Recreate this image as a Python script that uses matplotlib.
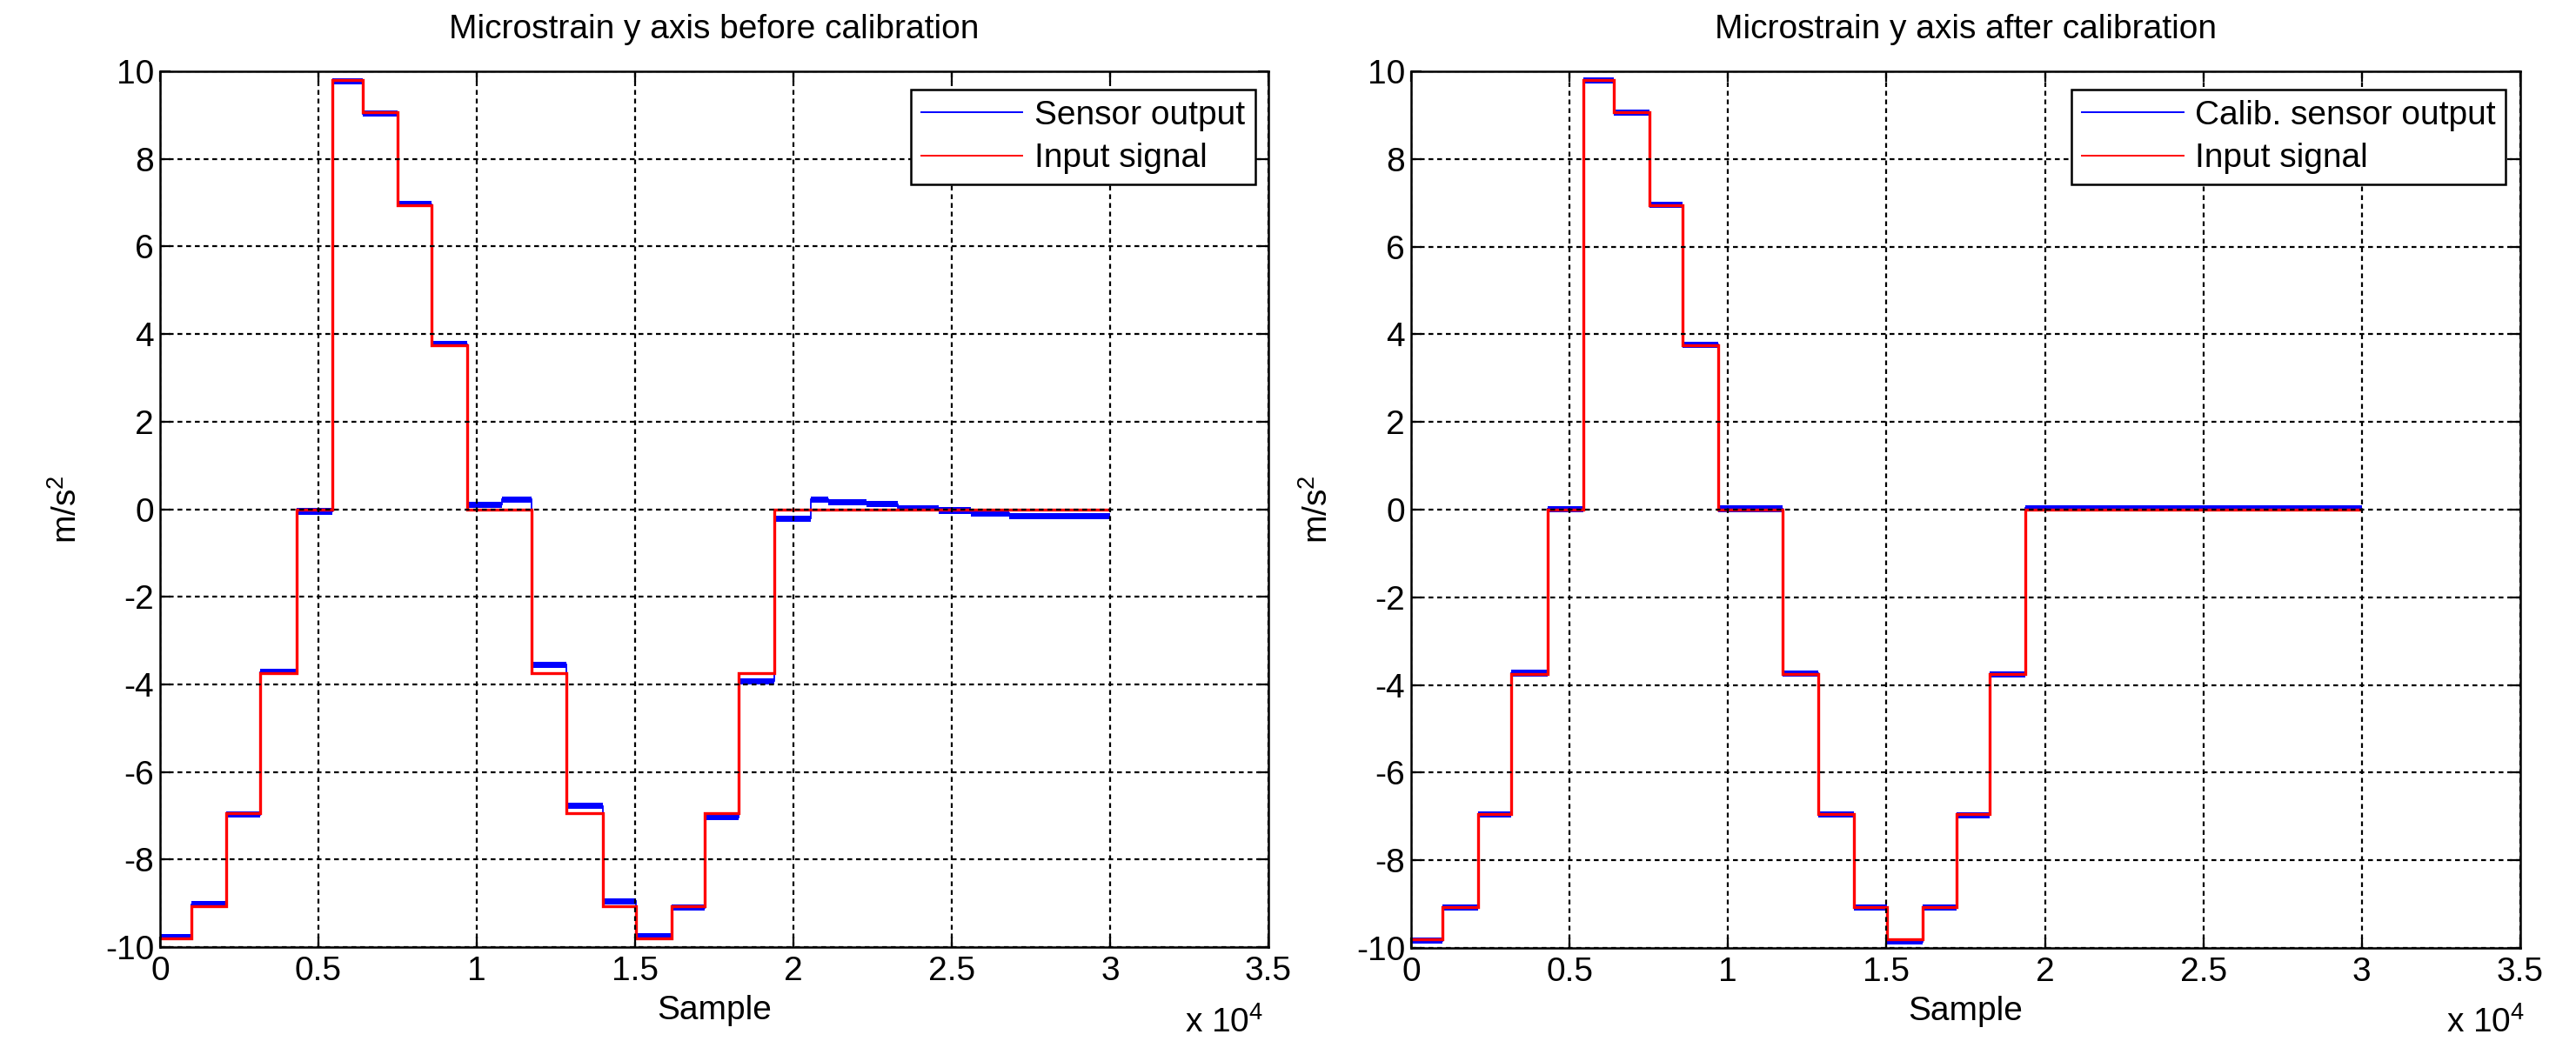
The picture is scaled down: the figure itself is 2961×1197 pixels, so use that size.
# Microstrain y axis - sensor output before / after calibration

import numpy as np
import matplotlib
matplotlib.use('Agg')
import matplotlib.pyplot as plt
from matplotlib.ticker import FuncFormatter, MultipleLocator

plt.rcParams['font.family'] = ['Liberation Sans', 'DejaVu Sans']
plt.rcParams['mathtext.fontset'] = 'custom'
plt.rcParams['mathtext.rm'] = 'Liberation Sans'
plt.rcParams['mathtext.it'] = 'Liberation Sans:italic'
plt.rcParams['axes.unicode_minus'] = False

# step edges of the input signal (sample index)
edges = [0, 1000, 2100, 3150, 4300, 5430, 6390, 7510, 8560, 9700, 11720,
         12840, 13980, 15020, 16150, 17210, 18260, 19390, 30000]
# input signal levels, m/s^2
input_signal = [-9.81, -9.06, -6.94, -3.75, 0.0, 9.81, 9.06, 6.94, 3.75, 0.0,
                -3.75, -6.94, -9.06, -9.81, -9.06, -6.94, -3.75, 0.0]

# sensor output before calibration (with drift at the end)
before_edges = [0, 1000, 2100, 3150, 4300, 5430, 6390, 7510, 8560, 9700, 10790,
                11720, 12840, 13980, 15020, 16150, 17210, 18260, 19390, 20540,
                21100, 22300, 23300, 24600, 25600, 26800, 30000]
sensor_before = [-9.77, -9.02, -6.98, -3.72, -0.05, 9.78, 9.03, 6.97, 3.77, 0.10,
                 0.22, -3.55, -6.78, -8.95, -9.76, -9.10, -7.04, -3.93, -0.21,
                 0.22, 0.16, 0.11, 0.02, -0.03, -0.09, -0.15]

# sensor output after calibration
sensor_after = [-9.84, -9.08, -6.96, -3.73, 0.01, 9.80, 9.05, 6.95, 3.76, 0.02,
                -3.74, -6.95, -9.08, -9.86, -9.08, -6.97, -3.76, 0.03]

x_ticks = [0, 5000, 10000, 15000, 20000, 25000, 30000, 35000]

W, H = 2961, 1197
fig = plt.figure(figsize=(W / 100, H / 100), dpi=100)

FS = 28
noise = 0.07   # half width of the noisy blue band


def px(x0, y0, x1, y1):
    return [x0 / W, 1 - y1 / H, (x1 - x0) / W, (y1 - y0) / H]


def draw(ax, b_edges, b_vals, title, blue_label, leg_x):
    b = np.array(b_vals)
    ax.stairs(b + noise, b_edges, baseline=b - noise, fill=True,
              color='blue', lw=0)
    ax.stairs(b, b_edges, baseline=None, color='blue', lw=1.3)
    ax.stairs(input_signal, edges, baseline=None, color='red', lw=2.4)
    h1, = ax.plot([], [], color='blue', lw=1.4, label=blue_label)
    h2, = ax.plot([], [], color='red', lw=1.4, label='Input signal')

    ax.set_xlim(0, 35000)
    ax.set_ylim(-10, 10)
    ax.set_xticks(x_ticks)
    ax.yaxis.set_major_locator(MultipleLocator(2))
    ax.xaxis.set_major_formatter(FuncFormatter(lambda v, p: '%g' % (v / 1e4)))
    ax.tick_params(direction='in', top=True, right=True, length=8.5,
                   width=1.6, labelsize=FS, colors='black')
    ax.tick_params(axis='x', pad=7)
    ax.tick_params(axis='y', pad=5)
    for s in ax.spines.values():
        s.set_linewidth(1.8)
        s.set_color('black')
    ax.grid(True, color='black', linestyle=(0, (2.5, 2.0)), linewidth=1.6)
    ax.set_axisbelow(False)

    ax.set_title(title, fontsize=FS, pad=27)
    ax.set_xlabel('Sample', fontsize=FS, labelpad=7)
    ax.set_ylabel('m/s$^2$', fontsize=FS, labelpad=18)

    leg = ax.legend(handles=[h1, h2], loc='upper right',
                    bbox_to_anchor=(leg_x, 0.979), borderaxespad=0,
                    fontsize=FS, frameon=True, fancybox=False, framealpha=1,
                    edgecolor='black', handlelength=3.0, handletextpad=0.35,
                    labelspacing=0.35, borderpad=0.3)
    leg.get_frame().set_linewidth(1.8)


ax1 = fig.add_axes(px(184, 82, 1458, 1089))
draw(ax1, before_edges, sensor_before,
     'Microstrain y axis before calibration', 'Sensor output', 0.988)

ax2 = fig.add_axes(px(1622, 82, 2897, 1090))
draw(ax2, edges, sensor_after,
     'Microstrain y axis after calibration', 'Calib. sensor output', 0.987)

# exponent labels below the axes, at the bottom edge of the picture
fig.text(1362 / W, 1 - 1195 / H, 'x 10$^4$', fontsize=FS, va='bottom', ha='left')
fig.text(2812 / W, 1 - 1195 / H, 'x 10$^4$', fontsize=FS, va='bottom', ha='left')

fig.savefig('out.png', dpi=100, facecolor='white')
